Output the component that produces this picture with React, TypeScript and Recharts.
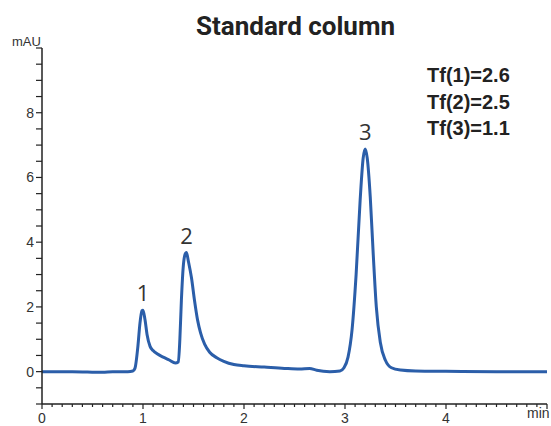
import { LineChart, Line, XAxis, YAxis, ReferenceDot } from 'recharts'

// retention time (min) and detector signal (mAU)
const times = [
  0, 0.3, 0.6, 0.7, 0.85, 0.9, 0.92, 0.95, 0.97, 0.99, 1.0, 1.02, 1.04, 1.07, 1.1, 1.14, 1.2, 1.26, 1.32,
  1.35, 1.365, 1.38, 1.4, 1.42, 1.43, 1.45, 1.48, 1.51, 1.54, 1.57, 1.61, 1.66, 1.73, 1.8, 1.9, 2.0, 2.2,
  2.4, 2.55, 2.65, 2.72, 2.85, 2.95, 2.99, 3.03, 3.07, 3.11, 3.15, 3.18, 3.2, 3.22, 3.25, 3.28, 3.31, 3.35,
  3.4, 3.46, 3.55, 3.7, 4.0, 4.5, 5.0,
]
const signal = [
  0, 0, -0.02, 0, 0, 0.02, 0.1, 0.8, 1.5, 1.88, 1.9, 1.6, 1.15, 0.78, 0.65, 0.55, 0.45, 0.36, 0.27,
  0.3, 1.0, 2.2, 3.3, 3.65, 3.68, 3.4, 2.9, 2.2, 1.6, 1.2, 0.85, 0.6, 0.43, 0.32, 0.22, 0.18, 0.14,
  0.1, 0.08, 0.1, 0.04, 0, 0.02, 0.12, 0.45, 1.3, 3.0, 5.3, 6.6, 6.88, 6.6, 5.4, 3.6, 2.0, 0.9,
  0.35, 0.12, 0.05, 0.02, 0.01, 0, 0,
]

const peakTimes = [1.0, 1.43, 3.2]
const peakHeights = [1.9, 3.68, 6.88]
const peakNames = ['1', '2', '3']

const tailing = ['Tf(1)=2.6', 'Tf(2)=2.5', 'Tf(3)=1.1']

const yTicks = [-1, -0.5, 0, 0.5, 1, 1.5, 2, 2.5, 3, 3.5, 4, 4.5, 5, 5.5, 6, 6.5, 7, 7.5, 8, 8.5, 9, 9.5, 10]
const yLabels = [0, 2, 4, 6, 8]
const xTicks = [
  0, 0.1, 0.2, 0.3, 0.4, 0.5, 0.6, 0.7, 0.8, 0.9, 1, 1.1, 1.2, 1.3, 1.4, 1.5, 1.6, 1.7, 1.8, 1.9, 2,
  2.1, 2.2, 2.3, 2.4, 2.5, 2.6, 2.7, 2.8, 2.9, 3, 3.1, 3.2, 3.3, 3.4, 3.5, 3.6, 3.7, 3.8, 3.9, 4,
  4.1, 4.2, 4.3, 4.4, 4.5, 4.6, 4.7, 4.8, 4.9, 5,
]
const xLabels = [0, 1, 2, 3, 4]

const BLUE = '#2b5ea9'
const INK = '#222'
const FONT = '"Liberation Sans", Arial, sans-serif'

const data = times.map((t, i) => ({ t, v: signal[i] }))

function YTick(props: any) {
  const { x, y, payload } = props
  if (!yLabels.includes(payload.value)) return null
  return (
    <text x={x} y={y} dy={5} textAnchor="end" fontSize={14} fill="#333" fontFamily={FONT}>
      {payload.value}
    </text>
  )
}

function XTick(props: any) {
  const { x, y, payload } = props
  const major = Number.isInteger(payload.value)
  return (
    <g>
      <line x1={x} x2={x} y1={y} y2={y + (major ? 5 : 3)} stroke={INK} strokeWidth={1.2} />
      {xLabels.includes(payload.value) && (
        <text x={x} y={y + 19} textAnchor="middle" fontSize={14} fill="#333" fontFamily={FONT}>
          {payload.value}
        </text>
      )}
    </g>
  )
}

export default function App() {
  return (
    <div style={{ position: 'absolute', left: 0, top: 0, width: 551, height: 426, overflow: 'hidden', background: '#fff' }}>
      <LineChart width={551} height={426} data={data} margin={{ top: 48, right: 4, bottom: 0, left: 0 }}>
        <XAxis
          dataKey="t"
          type="number"
          domain={[0, 5]}
          ticks={xTicks}
          interval={0}
          height={22}
          tickSize={0}
          tickMargin={0}
          tickLine={false}
          tick={<XTick />}
          axisLine={{ stroke: INK, strokeWidth: 1.5 }}
        />
        <YAxis
          type="number"
          domain={[-1, 10]}
          ticks={yTicks}
          interval={0}
          width={42}
          tickSize={6}
          tickMargin={2}
          tick={<YTick />}
          tickLine={{ stroke: INK, strokeWidth: 1.2 }}
          axisLine={{ stroke: INK, strokeWidth: 1.5 }}
        />
        <Line
          dataKey="v"
          type="monotone"
          stroke={BLUE}
          strokeWidth={3}
          dot={false}
          isAnimationActive={false}
        />
        {peakTimes.map((t, i) => (
          <ReferenceDot
            key={i}
            x={t}
            y={peakHeights[i]}
            r={1}
            fill="none"
            stroke="none"
            ifOverflow="visible"
            label={{ value: peakNames[i], position: 'top', offset: 8, fontSize: 22, fill: '#333', fontFamily: '"Open Sans", sans-serif' }}
          />
        ))}
      </LineChart>

      <div style={{ position: 'absolute', left: 0, width: 591, top: 10, textAlign: 'center', fontFamily: 'Roboto, sans-serif', fontWeight: 700, fontSize: 26, color: '#222', lineHeight: '32px' }}>
        Standard column
      </div>
      <div style={{ position: 'absolute', left: 12, top: 34, fontFamily: FONT, fontSize: 13, color: '#333' }}>mAU</div>
      <div style={{ position: 'absolute', left: 527, top: 405, fontFamily: FONT, fontSize: 14, color: '#333' }}>min</div>
      <div style={{ position: 'absolute', left: 427, top: 62, fontFamily: FONT, fontWeight: 700, fontSize: 20, color: '#222', lineHeight: '26.5px' }}>
        {tailing.map((s) => (
          <div key={s}>{s}</div>
        ))}
      </div>
    </div>
  )
}
